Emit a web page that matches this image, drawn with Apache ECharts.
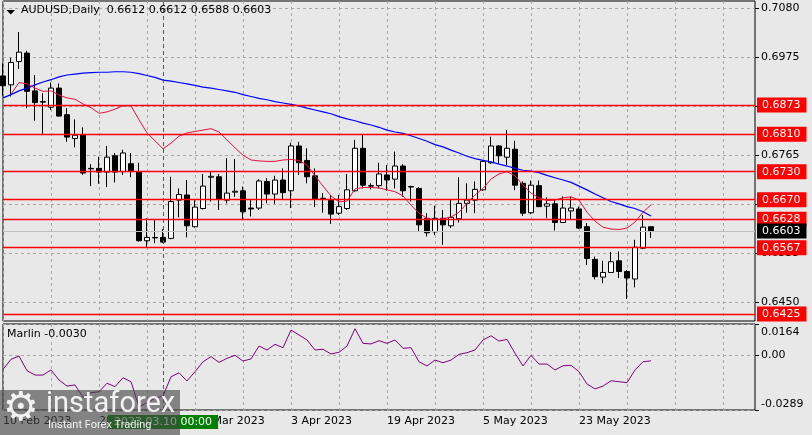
<!DOCTYPE html>
<html>
<head>
<meta charset="utf-8">
<script src="https://cdn.jsdelivr.net/npm/echarts@6/dist/echarts.min.js"></script>
<style>
html,body{margin:0;padding:0;background:#e8e8e8;}
#c{width:812px;height:435px;}
</style>
</head>
<body>
<div id="c"></div>
<script>
const dates = ['2023.02.10','2023.02.13','2023.02.14','2023.02.15','2023.02.16','2023.02.17','2023.02.20','2023.02.21','2023.02.22','2023.02.23',
'2023.02.24','2023.02.27','2023.02.28','2023.03.01','2023.03.02','2023.03.03','2023.03.06','2023.03.07','2023.03.08','2023.03.09',
'2023.03.10','2023.03.13','2023.03.14','2023.03.15','2023.03.16','2023.03.17','2023.03.20','2023.03.21','2023.03.22','2023.03.23',
'2023.03.24','2023.03.27','2023.03.28','2023.03.29','2023.03.30','2023.03.31','2023.04.03','2023.04.04','2023.04.05','2023.04.06',
'2023.04.07','2023.04.10','2023.04.11','2023.04.12','2023.04.13','2023.04.14','2023.04.17','2023.04.18','2023.04.19','2023.04.20',
'2023.04.21','2023.04.24','2023.04.25','2023.04.26','2023.04.27','2023.04.28','2023.05.01','2023.05.02','2023.05.03','2023.05.04',
'2023.05.05','2023.05.08','2023.05.09','2023.05.10','2023.05.11','2023.05.12','2023.05.15','2023.05.16','2023.05.17','2023.05.18',
'2023.05.19','2023.05.22','2023.05.23','2023.05.24','2023.05.25','2023.05.26','2023.05.29','2023.05.30','2023.05.31','2023.06.01',
'2023.06.02','2023.06.05'];
// empty room on the right of the chart (future bars)
const futureDates = ['2023.06.06','2023.06.07','2023.06.08','2023.06.09','2023.06.12','2023.06.13','2023.06.14','2023.06.15','2023.06.16','2023.06.19','2023.06.20','2023.06.21','2023.06.22'];

const opens = [0.6935,0.6916,0.6966,0.6984,0.6903,0.6880,0.6868,0.6909,0.6852,0.6801,
0.6809,0.6737,0.6737,0.6729,0.6764,0.6730,0.6747,0.6730,0.6582,0.6589,
0.6589,0.6587,0.6669,0.6680,0.6612,0.6651,0.6718,0.6719,0.6669,0.6686,
0.6689,0.6652,0.6652,0.6709,0.6682,0.6712,0.6689,0.6785,0.6754,0.6721,
0.6672,0.6668,0.6641,0.6651,0.6689,0.6780,0.6700,0.6700,0.6723,0.6714,
0.6742,0.6698,0.6694,0.6630,0.6601,0.6630,0.6614,0.6629,0.6662,0.6669,
0.6691,0.6749,0.6785,0.6761,0.6778,0.6705,0.6642,0.6700,0.6656,0.6661,
0.6621,0.6646,0.6650,0.6612,0.6542,0.6504,0.6514,0.6539,0.6516,0.6500,
0.6566,0.6612];
const highs = [0.6962,0.6974,0.7029,0.6989,0.6937,0.6898,0.6921,0.6919,0.6866,0.6842,
0.6825,0.6746,0.6762,0.6785,0.6770,0.6777,0.6770,0.6749,0.6630,0.6626,
0.6607,0.6719,0.6694,0.6712,0.6669,0.6725,0.6730,0.6725,0.6759,0.6757,
0.6698,0.6669,0.6714,0.6716,0.6721,0.6737,0.6792,0.6794,0.6780,0.6737,
0.6684,0.6680,0.6680,0.6725,0.6798,0.6809,0.6705,0.6749,0.6744,0.6773,
0.6746,0.6700,0.6697,0.6641,0.6657,0.6648,0.6671,0.6718,0.6705,0.6709,
0.6755,0.6805,0.6787,0.6819,0.6796,0.6709,0.6711,0.6711,0.6675,0.6669,
0.6677,0.6677,0.6655,0.6620,0.6548,0.6539,0.6558,0.6559,0.6519,0.6584,
0.6637,0.6612];
const lows = [0.6893,0.6891,0.6950,0.6866,0.6839,0.6811,0.6862,0.6848,0.6794,0.6782,
0.6723,0.6699,0.6704,0.6697,0.6707,0.6723,0.6718,0.6580,0.6569,0.6577,
0.6577,0.6585,0.6632,0.6589,0.6610,0.6649,0.6666,0.6648,0.6662,0.6676,
0.6626,0.6634,0.6648,0.6662,0.6661,0.6671,0.6652,0.6723,0.6705,0.6654,
0.6642,0.6618,0.6637,0.6648,0.6687,0.6694,0.6692,0.6694,0.6689,0.6694,
0.6676,0.6666,0.6601,0.6591,0.6594,0.6573,0.6609,0.6621,0.6642,0.6641,
0.6689,0.6747,0.6747,0.6744,0.6690,0.6635,0.6639,0.6654,0.6630,0.6604,
0.6620,0.6628,0.6607,0.6530,0.6499,0.6491,0.6514,0.6502,0.6457,0.6482,
0.6564,0.6588];
const closes = [0.6914,0.6964,0.6986,0.6902,0.6878,0.6879,0.6909,0.6849,0.6804,0.6808,
0.6727,0.6736,0.6729,0.6761,0.6729,0.6770,0.6732,0.6582,0.6589,0.6588,
0.6579,0.6666,0.6681,0.6614,0.6654,0.6699,0.6720,0.6671,0.6684,0.6688,
0.6644,0.6650,0.6710,0.6682,0.6712,0.6685,0.6785,0.6749,0.6719,0.6672,
0.6673,0.6639,0.6655,0.6691,0.6780,0.6701,0.6699,0.6725,0.6712,0.6742,
0.6689,0.6697,0.6616,0.6599,0.6630,0.6616,0.6632,0.6662,0.6669,0.6692,
0.6752,0.6785,0.6764,0.6780,0.6701,0.6641,0.6701,0.6655,0.6661,0.6621,
0.6652,0.6652,0.6609,0.6544,0.6505,0.6514,0.6537,0.6516,0.6502,0.6568,
0.6611,0.6603];

const blueMA = [0.6888,0.6895,0.6903,0.6909,0.6916,0.6922,0.6927,0.6933,0.6937,0.6939,
0.6941,0.6942,0.6943,0.6943,0.6944,0.6944,0.6943,0.6940,0.6936,0.6932,
0.6926,0.6924,0.6921,0.6918,0.6915,0.6911,0.6909,0.6906,0.6903,0.6900,
0.6895,0.6891,0.6887,0.6884,0.6880,0.6877,0.6874,0.6871,0.6866,0.6862,
0.6858,0.6854,0.6848,0.6843,0.6839,0.6834,0.6830,0.6825,0.6819,0.6815,
0.6812,0.6807,0.6801,0.6795,0.6788,0.6783,0.6776,0.6770,0.6763,0.6758,
0.6754,0.6751,0.6746,0.6742,0.6737,0.6733,0.6731,0.6728,0.6722,0.6717,
0.6712,0.6707,0.6699,0.6691,0.6682,0.6674,0.6666,0.6661,0.6655,0.6651,
0.6644,0.6635];
const redMA = ['-',0.6896,0.6921,0.6918,0.6909,0.6902,0.6903,0.6894,0.6888,0.6885,
0.6875,0.6867,0.6855,0.6858,0.6864,0.6871,0.6871,0.6841,0.6813,0.6796,
0.6779,0.6791,0.6806,0.6813,0.6816,0.6819,0.6822,0.6815,0.6798,0.6781,
0.6765,0.6755,0.6753,0.6752,0.6752,0.6755,0.6756,0.6754,0.6744,0.6721,
0.6699,0.6678,0.6665,0.6667,0.6693,0.6696,0.6696,0.6695,0.6691,0.6687,
0.6678,0.6658,0.6641,0.6630,0.6627,0.6629,0.6633,0.6643,0.6662,0.6680,
0.6694,0.6714,0.6725,0.6730,0.6721,0.6701,0.6684,0.6674,0.6668,0.6669,
0.6674,0.6676,0.6669,0.6643,0.6624,0.6611,0.6607,0.6606,0.6609,0.6622,
0.6643,0.6659];
const marlin = [-0.0075,-0.0022,-0.0005,-0.0082,-0.0105,-0.0105,-0.0078,-0.0131,-0.0163,-0.0157,
-0.0222,-0.0198,-0.0193,-0.0148,-0.0166,-0.0119,-0.0140,-0.0272,-0.0251,-0.0227,
-0.0215,-0.0114,-0.0093,-0.0136,-0.0087,-0.0035,-0.0008,-0.0038,-0.0017,-0.0001,
-0.0031,-0.0020,0.0048,0.0027,0.0057,0.0039,0.0132,0.0106,0.0080,0.0027,
0.0031,0.0006,0.0015,0.0048,0.0139,0.0062,0.0059,0.0076,0.0062,0.0080,
0.0036,0.0039,-0.0035,-0.0057,-0.0026,-0.0040,-0.0026,0.0004,0.0013,0.0027,
0.0080,0.0102,0.0074,0.0083,0.0010,-0.0057,-0.0001,-0.0047,-0.0047,-0.0078,
-0.0056,-0.0054,-0.0087,-0.0152,-0.0178,-0.0163,-0.0135,-0.0140,-0.0145,-0.0078,
-0.0035,-0.0030];

const levels = [0.6873, 0.6810, 0.6730, 0.6670, 0.6628, 0.6567, 0.6425];
const lastPrice = 0.6603;
const priceTicks = [0.6450, 0.6555, 0.6660, 0.6765, 0.6870, 0.6975, 0.7080];
const marlinTicks = [-0.0289, 0, 0.0164];
const markedDate = '2023.03.10';
const markedLabel = '2023.03.10 00:00';
const title = 'AUDUSD,Daily  0.6612 0.6612 0.6588 0.6603';
const marlinTitle = 'Marlin -0.0030';
const months = ['Jan','Feb','Mar','Apr','May','Jun','Jul','Aug','Sep','Oct','Nov','Dec'];

const FONT = 'DejaVu Sans';
const allDates = dates.concat(futureDates);
const candles = dates.map((d, i) => [opens[i], closes[i], lows[i], highs[i]]);
const fmtDate = s => { const p = s.split('.'); return (+p[2]) + ' ' + months[+p[1] - 1] + ' ' + p[0]; };

const gridLine = {show: true, interval: 5, lineStyle: {color: '#a8a8a8', type: [3, 3], width: 1}};
const boxLabel = (txt, bg) => ({show: true, position: 'end', distance: 2, formatter: txt, backgroundColor: bg,
  color: '#ffffff', fontFamily: FONT, fontSize: 11, padding: [2, 6, 1, 5], lineHeight: 12});

const chart = echarts.init(document.getElementById('c'), null, {renderer: 'canvas'});
chart.setOption({
  animation: false,
  backgroundColor: '#e8e8e8',
  grid: [
    {left: 3, top: 1, width: 752, height: 320, show: true, borderColor: '#000', borderWidth: 1, backgroundColor: 'transparent'},
    {left: 3, top: 324, width: 752, height: 86, show: true, borderColor: '#000', borderWidth: 1, backgroundColor: 'transparent'}
  ],
  xAxis: [
    {type: 'category', gridIndex: 0, data: allDates, boundaryGap: false,
     axisLine: {show: false}, axisTick: {show: false}, axisLabel: {show: false}, splitLine: gridLine},
    {type: 'category', gridIndex: 1, data: allDates, boundaryGap: false,
     axisLine: {show: false}, axisTick: {show: false},
     axisLabel: {show: true, interval: (idx) => idx % 12 === 0 && idx < dates.length,
       formatter: (v) => fmtDate(v), align: 'left', margin: 6,
       color: '#000', fontFamily: FONT, fontSize: 11},
     splitLine: gridLine}
  ],
  yAxis: [
    {type: 'value', gridIndex: 0, position: 'right', min: 0.6410, max: 0.70956, scale: true,
     axisLine: {show: false},
     axisTick: {show: true, length: 4, customValues: priceTicks, lineStyle: {color: '#000'}},
     axisLabel: {customValues: priceTicks, formatter: v => v.toFixed(4), margin: 6,
       color: '#000', fontFamily: FONT, fontSize: 11},
     splitLine: {show: true, lineStyle: {color: '#a8a8a8', type: [3, 3], width: 1}}},
    {type: 'value', gridIndex: 1, position: 'right', min: -0.0289, max: 0.0164,
     axisLine: {show: false},
     axisTick: {show: true, length: 4, customValues: marlinTicks, lineStyle: {color: '#000'}},
     axisLabel: {customValues: marlinTicks, margin: 6, color: '#000', fontFamily: FONT, fontSize: 11,
       formatter: v => v === marlinTicks[2] ? '{t|' + v.toFixed(4) + '}' : (v === marlinTicks[0] ? '{b|' + v.toFixed(4) + '}' : '{m|0.00}'),
       rich: {
         t: {padding: [17, 0, 0, 0], fontFamily: FONT, fontSize: 11, color: '#000'},
         b: {padding: [0, 0, 11, 0], fontFamily: FONT, fontSize: 11, color: '#000'},
         m: {fontFamily: FONT, fontSize: 11, color: '#000'}
       }},
     splitLine: {show: true, lineStyle: {color: '#a8a8a8', type: [3, 3], width: 1}}}
  ],
  series: [
    {type: 'candlestick', xAxisIndex: 0, yAxisIndex: 0, data: candles, barWidth: 5, z: 3,
     itemStyle: {color: '#ffffff', color0: '#000000', borderColor: '#000000', borderColor0: '#000000', borderWidth: 1},
     markLine: {silent: true, symbol: ['none', 'none'], animation: false, precision: 6,
       data: levels.map(v => ({yAxis: v, lineStyle: {color: '#ff0000', width: 1.3, type: 'solid'},
           label: boxLabel(v.toFixed(4), '#ff0000')}))
         .concat([{yAxis: lastPrice, lineStyle: {color: '#c0c0c0', width: 1, type: 'solid'},
           label: boxLabel(lastPrice.toFixed(4), '#000000')},
           {xAxis: markedDate, lineStyle: {color: '#108a10', width: 1, type: [4, 3]}, label: {show: false}}])
     }},
    {type: 'line', xAxisIndex: 0, yAxisIndex: 0, data: blueMA, symbol: 'none', z: 4,
     lineStyle: {color: '#0000ff', width: 1.2}},
    {type: 'line', xAxisIndex: 0, yAxisIndex: 0, data: redMA, symbol: 'none', z: 4,
     lineStyle: {color: '#e8103c', width: 1}},
    {type: 'line', xAxisIndex: 1, yAxisIndex: 1, data: marlin, symbol: 'none', z: 4,
     lineStyle: {color: '#800080', width: 1},
     markLine: {silent: true, symbol: ['none', 'none'], animation: false, precision: 6,
       data: [{xAxis: markedDate, lineStyle: {color: '#108a10', width: 1, type: [4, 3]},
         label: {show: true, position: 'start', distance: 5, formatter: markedLabel, backgroundColor: '#008000',
           color: '#ffffff', fontFamily: FONT, fontSize: 11, padding: [1, 6, 1, 6], lineHeight: 12}}]}}
  ],
  graphic: [
    {type: 'polygon', shape: {points: [[6.5, 10], [15, 10], [10.75, 14.5]]}, style: {fill: '#000'}, z: 10},
    {type: 'text', left: 21, top: 5, style: {text: title, fill: '#000', font: '11px "DejaVu Sans"'}, z: 10},
    {type: 'text', left: 7, top: 329, style: {text: marlinTitle, fill: '#000', font: '11px "DejaVu Sans"'}, z: 10},
    {type: 'group', left: 0, top: 390, z: 100, children: [
      {type: 'rect', z: 100, shape: {x: 0, y: 0, width: 180, height: 45}, style: {fill: 'rgba(70,70,70,0.62)'}},
      {type: 'text', z: 101, x: 3, y: 0, style: {text: '\u2699', fill: 'rgba(255,255,255,0.9)', font: '40px "DejaVu Sans"'}},
      {type: 'text', z: 101, x: 46, y: 0, style: {text: 'instaforex', fill: 'rgba(255,255,255,0.9)', font: '29px Roboto'}},
      {type: 'text', z: 101, x: 48, y: 30, style: {text: 'Instant Forex Trading', fill: 'rgba(255,255,255,0.9)', font: '11px Roboto'}}
    ]}
  ]
});
</script>
</body>
</html>
